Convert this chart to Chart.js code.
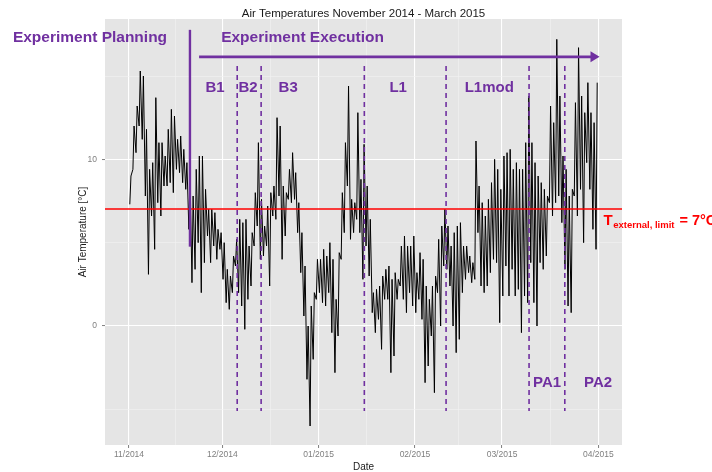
<!DOCTYPE html>
<html>
<head>
<meta charset="utf-8">
<script src="https://cdn.jsdelivr.net/npm/chart.js@4.4.0/dist/chart.umd.min.js"></script>
<style>
  html, body { margin: 0; padding: 0; background: #ffffff; }
  #wrap { width: 712px; height: 472px; }
</style>
</head>
<body>
<div id="wrap"><canvas id="c" width="712" height="472"></canvas></div>
<script>
// Air temperature, daily low / high, day 0 = 1 Nov 2014 ... day 150 = 31 Mar 2015
const dailyHigh = [
  9.0, 12.0, 13.2, 15.3, 15.0, 11.8, 9.4, 9.8, 13.7, 11.0,
  11.0, 10.2, 11.8, 13.0, 12.6, 11.2, 11.4, 10.6, 9.8, 9.2,
  7.8, 9.4, 10.2, 10.2, 8.2, 7.0, 7.0, 6.8, 5.8, 5.6,
  5.0, 3.4, 3.0, 4.2, 5.2, 6.4, 6.2, 6.4, 4.8, 5.6,
  8.0, 11.0, 7.6, 6.0, 7.2, 8.0, 8.4, 12.5, 12.0, 8.4,
  8.0, 9.4, 10.4, 9.2, 7.4, 5.6, 3.6, 0.0, 1.2, 2.0,
  4.0, 4.0, 4.6, 4.2, 5.0, 4.0, 1.6, 4.4, 8.0, 11.0,
  14.4, 7.6, 7.4, 12.8, 8.8, 10.9, 8.4, 6.4, 2.0, 2.2,
  2.4, 3.0, 3.4, 3.6, 2.8, 3.2, 2.8, 4.8, 5.4, 4.8,
  4.8, 5.4, 3.2, 4.4, 4.0, 2.4, 1.6, 2.4, 3.0, 5.2,
  6.0, 7.0, 6.0, 4.8, 5.6, 6.0, 6.2, 4.8, 4.8, 4.2,
  3.8, 11.1, 8.4, 7.4, 6.6, 7.6, 8.6, 10.0, 9.4, 8.2,
  10.2, 10.4, 10.6, 9.4, 9.8, 9.4, 9.4, 11.0, 13.8, 11.0,
  9.8, 9.0, 8.6, 8.2, 7.8, 13.2, 12.2, 17.2, 13.8, 10.2,
  9.4, 7.8, 8.2, 13.4, 16.7, 13.8, 12.8, 14.6, 12.8, 12.2,
  14.6
];
const dailyLow = [
  7.3, 9.4, 10.4, 12.0, 11.2, 7.8, 3.1, 6.6, 4.6, 7.4,
  6.6, 8.4, 8.4, 8.6, 8.0, 9.4, 9.2, 8.6, 8.2, 5.8,
  2.6, 3.4, 5.0, 2.0, 3.8, 5.4, 3.8, 4.8, 4.0, 4.6,
  2.8, 1.4, 1.0, 2.0, 3.6, 2.0, 1.2, -0.2, 1.6, 2.4,
  4.8, 6.0, 4.0, 4.2, 4.8, 2.4, 6.6, 6.4, 7.8, 4.0,
  5.4, 7.6, 7.4, 7.6, 5.6, 3.2, 0.6, -3.2, -6.0, -2.0,
  1.6, 2.0, 1.4, 1.2, 2.0, -0.4, -2.8, -0.6, 4.0, 5.6,
  8.4, 5.2, 5.6, 6.4, 5.6, 2.8, 4.8, 3.0, 0.8, -0.4,
  0.4, -1.4, 1.6, 1.6, -2.8, -1.8, 1.6, 2.4, 1.6, 0.8,
  2.0, 1.2, 0.8, 1.6, 0.4, -3.4, -2.4, -0.6, -4.0, 2.0,
  0.0, 3.6, 3.4, 2.4, 0.0, -1.6, -0.8, 2.0, 2.8, 3.2,
  2.6, 2.8, 5.6, 2.4, 2.0, 2.4, 3.2, 4.0, 3.8, 0.2,
  1.8, 3.6, 1.8, 3.4, 1.8, 2.2, -0.4, 1.8, 1.4, 3.8,
  1.4, 0.0, 3.8, 3.4, 4.2, 7.4, 6.6, 7.4, 7.8, 6.2,
  3.4, 1.2, 0.8, 7.8, 6.6, 8.2, 5.0, 9.8, 8.2, 5.8,
  4.6
];

// Axis ticks (days since 1 Nov 2014) and their labels
const monthTickDays = [0, 30, 61, 92, 120, 151];
const monthTickLabels = ['11/2014', '12/2014', '01/2015', '02/2015', '03/2015', '04/2015'];
const tempTickValues = [0, 10];

// Limit temperature and experiment phases
const thresholdTemp = 7;
const executionStartDay = 19.6;
const phaseBoundaryDays = [34.8, 42.5, 75.7, 102, 128.7, 140.2];
const phaseNames = ['B1', 'B2', 'B3', 'L1', 'L1mod', 'PA1', 'PA2'];

// ---------------------------------------------------------------------------
const purple = '#7030A0';
const red = '#FF0000';
const FONT = '"Liberation Sans", Arial, sans-serif';

// one low (early morning) and one high (afternoon) per day
const series = [];
for (let i = 0; i < dailyHigh.length; i++) {
  series.push({ x: i + 0.25, y: dailyLow[i] });
  series.push({ x: i + 0.62, y: dailyHigh[i] });
}

// minor grid lines halfway between major ticks
const xMinor = [];
for (let i = 0; i < monthTickDays.length - 1; i++) {
  xMinor.push((monthTickDays[i] + monthTickDays[i + 1]) / 2);
}
const tStep = tempTickValues[1] - tempTickValues[0];
const yMinor = [tempTickValues[0] - tStep / 2, tempTickValues[0] + tStep / 2, tempTickValues[1] + tStep / 2];

const xAll = monthTickDays.concat(xMinor).sort((a, b) => a - b);
const yAll = tempTickValues.concat(yMinor).sort((a, b) => a - b);

// label anchors: [day, temperature]
const phaseLabelAt = [
  [27.7, 14.06], [38.3, 14.06], [51.2, 14.06], [86.6, 14.06],
  [115.9, 14.06], [134.5, -3.64], [150.9, -3.64]
];

const decor = {
  id: 'decor',
  beforeDraw(chart) {
    const { ctx, chartArea: a } = chart;
    ctx.save();
    ctx.fillStyle = '#ffffff';
    ctx.fillRect(0, 0, chart.width, chart.height);
    ctx.fillStyle = '#E5E5E5';
    ctx.fillRect(a.left, a.top, a.right - a.left, a.bottom - a.top);
    ctx.restore();
  },
  afterDatasetsDraw(chart) {
    const { ctx, chartArea: a } = chart;
    const xs = chart.scales.x, ys = chart.scales.y;
    const X = v => xs.getPixelForValue(v);
    const Y = v => ys.getPixelForValue(v);
    ctx.save();

    // limit temperature line
    const ly = Math.round(Y(thresholdTemp));
    ctx.strokeStyle = red;
    ctx.lineWidth = 1.6;
    ctx.beginPath();
    ctx.moveTo(a.left, ly);
    ctx.lineTo(a.right, ly);
    ctx.stroke();

    // phase boundaries
    ctx.strokeStyle = purple;
    ctx.lineWidth = 1.6;
    ctx.setLineDash([5, 4]);
    phaseBoundaryDays.forEach(d => {
      ctx.beginPath();
      ctx.moveTo(X(d), Y(15.6));
      ctx.lineTo(X(d), Y(-5.1));
      ctx.stroke();
    });
    ctx.setLineDash([]);

    // planning / execution divider
    ctx.lineWidth = 2.4;
    ctx.beginPath();
    ctx.moveTo(X(executionStartDay), Y(17.77));
    ctx.lineTo(X(executionStartDay), Y(4.76));
    ctx.stroke();

    // execution arrow
    const ay = Y(16.15);
    const ax0 = X(22.54), ax1 = X(151.37);
    ctx.lineWidth = 2.6;
    ctx.beginPath();
    ctx.moveTo(ax0, ay);
    ctx.lineTo(ax1 - 6, ay);
    ctx.stroke();
    ctx.fillStyle = purple;
    ctx.beginPath();
    ctx.moveTo(ax1, ay);
    ctx.lineTo(ax1 - 9, ay - 5.5);
    ctx.lineTo(ax1 - 9, ay + 5.5);
    ctx.closePath();
    ctx.fill();

    // headings
    ctx.fillStyle = purple;
    ctx.textBaseline = 'alphabetic';
    ctx.textAlign = 'left';
    ctx.font = 'bold 15.5px ' + FONT;
    ctx.fillText('Experiment Planning', X(-37.36), Y(17.07));
    ctx.fillText('Experiment Execution', X(29.63), Y(17.07));

    // phase names
    ctx.textAlign = 'center';
    ctx.font = 'bold 15px ' + FONT;
    phaseNames.forEach((n, i) => {
      ctx.fillText(n, X(phaseLabelAt[i][0]), Y(phaseLabelAt[i][1]));
    });

    // limit label
    ctx.fillStyle = red;
    ctx.textAlign = 'left';
    let tx = X(152.66);
    ctx.font = 'bold 15px ' + FONT;
    ctx.fillText('T', tx, Y(6.09));
    tx += ctx.measureText('T').width + 0.5;
    ctx.font = 'bold 9.5px ' + FONT;
    ctx.fillText('external, limit', tx, Y(5.91));
    tx += ctx.measureText('external, limit').width + 1;
    ctx.font = 'bold 14.5px ' + FONT;
    ctx.fillText(' = ' + thresholdTemp + '\u00B0C', tx, Y(6.09));

    ctx.restore();
  },
  afterDraw(chart) {
    const { ctx, chartArea: a } = chart;
    ctx.save();
    ctx.fillStyle = '#1a1a1a';
    ctx.textAlign = 'center';
    ctx.textBaseline = 'alphabetic';
    ctx.font = '11.5px ' + FONT;
    ctx.fillText('Air Temperatures November 2014 - March 2015', (a.left + a.right) / 2, 16.7);
    ctx.font = '10px ' + FONT;
    ctx.fillText('Date', (a.left + a.right) / 2, 470);
    ctx.translate(86, (a.top + a.bottom) / 2);
    ctx.rotate(-Math.PI / 2);
    ctx.fillText('Air Temperature [\u00B0C]', 0, 0);
    ctx.restore();
  }
};

new Chart(document.getElementById('c').getContext('2d'), {
  type: 'line',
  data: {
    datasets: [{
      data: series,
      borderColor: '#000000',
      borderWidth: 1,
      pointRadius: 0,
      tension: 0,
      fill: false
    }]
  },
  options: {
    responsive: false,
    animation: false,
    devicePixelRatio: 1,
    layout: { padding: { left: 0, right: 90, top: 19, bottom: 0 } },
    plugins: {
      legend: { display: false },
      title: { display: false },
      tooltip: { enabled: false }
    },
    scales: {
      x: {
        type: 'linear',
        min: -7.73,
        max: 158.6,
        afterFit(s) { s.height = 27; },
        afterBuildTicks(s) { s.ticks = xAll.map(v => ({ value: v })); },
        ticks: {
          autoSkip: false,
          maxRotation: 0,
          padding: 2,
          color: '#7F7F7F',
          font: { family: FONT, size: 8.5 },
          callback(v) {
            const i = monthTickDays.indexOf(v);
            return i >= 0 ? monthTickLabels[i] : '';
          }
        },
        grid: {
          color: c => (c.tick && monthTickDays.includes(c.tick.value)) ? '#FFFFFF' : '#F2F2F2',
          lineWidth: c => (c.tick && monthTickDays.includes(c.tick.value)) ? 1.1 : 0.6,
          tickColor: c => (c.tick && monthTickDays.includes(c.tick.value)) ? '#7F7F7F' : 'rgba(0,0,0,0)',
          tickLength: 3,
          tickWidth: 1
        },
        border: { display: false }
      },
      y: {
        type: 'linear',
        min: -7.14,
        max: 18.42,
        afterFit(s) { s.width = 105; },
        afterBuildTicks(s) { s.ticks = yAll.map(v => ({ value: v })); },
        ticks: {
          autoSkip: false,
          padding: 5,
          color: '#7F7F7F',
          font: { family: FONT, size: 8.5 },
          callback(v) { return tempTickValues.includes(v) ? String(v) : ''; }
        },
        grid: {
          color: c => (c.tick && tempTickValues.includes(c.tick.value)) ? '#FFFFFF' : '#F2F2F2',
          lineWidth: c => (c.tick && tempTickValues.includes(c.tick.value)) ? 1.1 : 0.6,
          tickColor: c => (c.tick && tempTickValues.includes(c.tick.value)) ? '#7F7F7F' : 'rgba(0,0,0,0)',
          tickLength: 3,
          tickWidth: 1
        },
        border: { display: false }
      }
    }
  },
  plugins: [decor]
});
</script>
</body>
</html>
